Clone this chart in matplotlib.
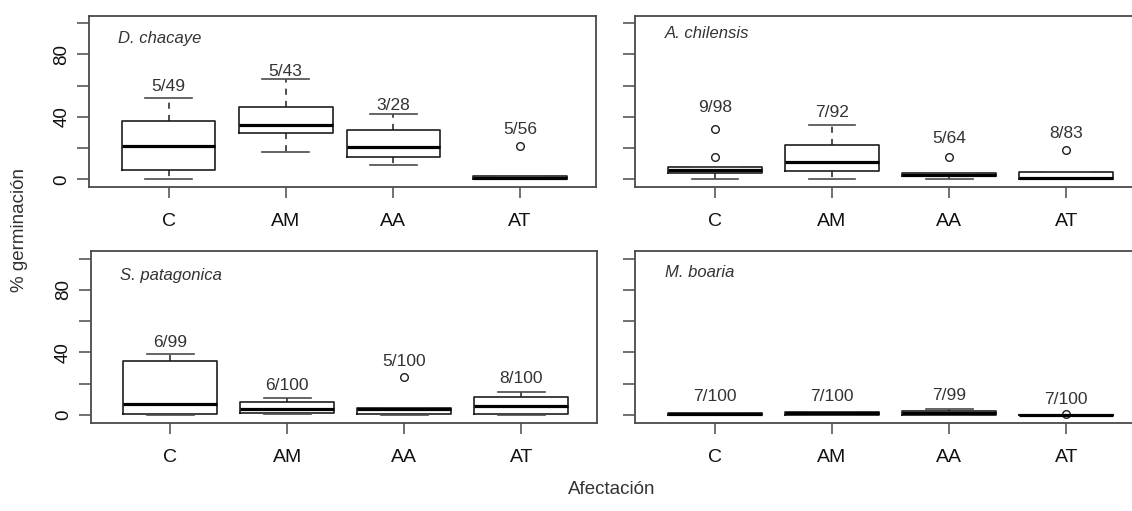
import matplotlib
matplotlib.use('Agg')
import matplotlib.pyplot as plt

plt.rcParams['font.family'] = ['Liberation Sans', 'DejaVu Sans']

groups = ['C', 'AM', 'AA', 'AT']

# one entry per panel (% germination)
species = ['D. chacaye', 'A. chilensis', 'S. patagonica', 'M. boaria']

q1 = [[5.9, 29.8, 14.4, 0.3],
      [3.8, 5.5, 2.0, 0.2],
      [0.4, 1.3, 0.6, 0.6],
      [0.0, 0.0, 0.0, 0.0]]
med = [[21.5, 34.5, 20.6, 1.0],
       [5.7, 10.9, 3.0, 1.0],
       [7.0, 3.6, 4.0, 5.5],
       [0.5, 1.0, 1.0, 0.0]]
q3 = [[37.4, 46.0, 31.5, 2.2],
      [7.8, 22.0, 4.3, 4.5],
      [34.6, 8.5, 4.5, 11.5],
      [1.0, 1.9, 2.6, 0.0]]
whislo = [[0.0, 17.4, 9.3, 0.0],
          [0.0, 0.0, 0.0, 0.0],
          [0.0, 0.5, 0.0, 0.0],
          [0.0, 0.0, 0.0, 0.0]]
whishi = [[52.1, 63.9, 42.1, 2.2],
          [7.8, 34.6, 4.3, 4.5],
          [39.2, 10.9, 4.5, 14.5],
          [1.0, 1.9, 4.0, 0.0]]
fliers = [[[], [], [], [21.5]],
          [[14.6, 32.4], [], [14.6], [18.8]],
          [[], [], [24.1], []],
          [[], [], [], [0.6]]]

counts = [['5/49', '5/43', '3/28', '5/56'],
          ['9/98', '7/92', '5/64', '8/83'],
          ['6/99', '6/100', '5/100', '8/100'],
          ['7/100', '7/100', '7/99', '7/100']]
count_y = [[59.6, 69.2, 47.3, 31.9],
           [45.8, 42.9, 25.9, 29.3],
           [46.5, 18.8, 34.3, 23.4],
           [12.0, 12.0, 12.6, 10.0]]

positions = [[1, 2, 2.92, 4.0], [1, 2, 3, 4], [1, 2, 3, 4], [1, 2, 3, 4]]

W, H = 1132, 511
fig = plt.figure(figsize=(W / 100, H / 100), dpi=100)

# panel boxes in pixels: left, top, right, bottom
panel_px = [(89, 15.7, 596, 187),
            (635.3, 15.7, 1142.3, 187),
            (90.7, 251.3, 597.3, 422.5),
            (635.3, 251.3, 1142.3, 422.5)]
title_y = [0.868, 0.895, 0.86, 0.874]

spine_col = '#4a4a4a'
line_col = '#1e1e1e'

for i in range(4):
    l, t, r, b = panel_px[i]
    ax = fig.add_axes([l / W, 1 - b / H, (r - l) / W, (b - t) / H])

    stats = []
    for j in range(4):
        stats.append(dict(med=med[i][j], q1=q1[i][j], q3=q3[i][j],
                          whislo=whislo[i][j], whishi=whishi[i][j],
                          fliers=fliers[i][j], label=groups[j]))

    ax.bxp(stats, positions=positions[i], widths=0.8, capwidths=0.4,
           boxprops=dict(color=line_col, lw=1.2),
           medianprops=dict(color='black', lw=2.3, solid_capstyle='butt'),
           whiskerprops=dict(color=line_col, lw=1.1, ls=(0, (4, 4))),
           capprops=dict(color=spine_col, lw=1.2),
           flierprops=dict(marker='o', mfc='none', mec=line_col, ms=5.5, mew=1.0))

    for j in range(4):
        ax.text(positions[i][j], count_y[i][j], counts[i][j], ha='center', va='center',
                fontsize=12.5, color='#333333')

    ax.text(0.058, title_y[i], species[i], transform=ax.transAxes, fontsize=12,
            style='italic', color='#333333', ha='left', va='center')

    ax.set_xlim(0.32, 4.65)
    ax.set_ylim(-4.9, 104.7)

    ax.set_xticks(positions[i])
    ax.set_xticklabels(groups, fontsize=14, color='#111111')
    ax.tick_params(axis='x', length=8, width=1.1, color=spine_col, pad=11)

    ax.set_yticks([0, 20, 40, 60, 80, 100])
    if i % 2 == 0:
        ax.set_yticklabels(['0', '', '40', '', '80', ''], rotation=90, va='center',
                           fontsize=13.5, color='#111111')
    else:
        ax.set_yticklabels([])
    ax.tick_params(axis='y', length=8.5, width=1.1, color=spine_col, pad=5)

    for s in ax.spines.values():
        s.set_color(spine_col)
        s.set_linewidth(1.3)

fig.text(20 / W, 1 - 230 / H, '% germinación', rotation=90, ha='center', va='center',
         fontsize=13.5, color='#333333')
fig.text(612 / W, 1 - 490 / H, 'Afectación', ha='center', va='center',
         fontsize=13.5, color='#333333')

fig.savefig('out.png', dpi=100)
